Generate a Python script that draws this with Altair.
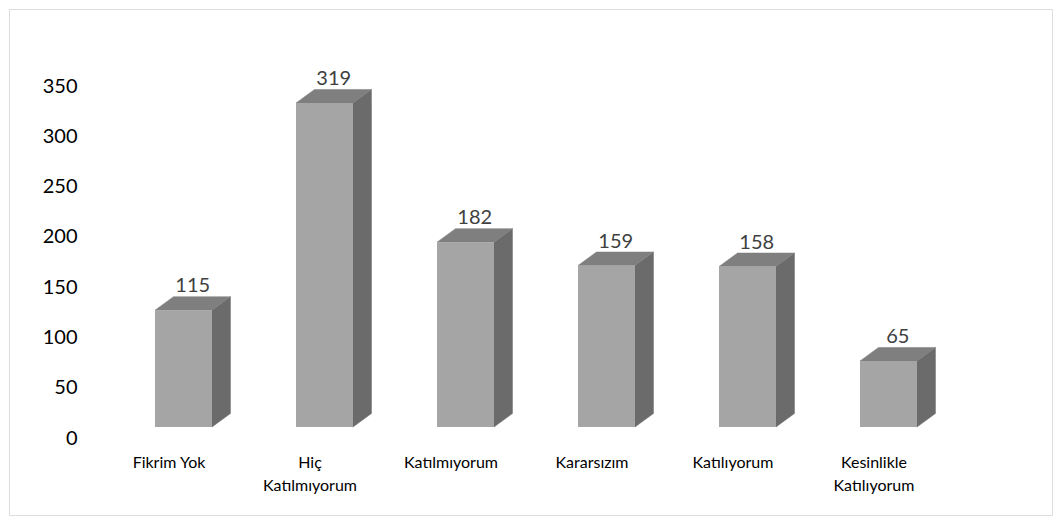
import json
import altair as alt
import pandas as pd

# ---- data ----
categories = ["Fikrim Yok", "Hiç Katılmıyorum", "Katılmıyorum", "Kararsızım",
              "Katılıyorum", "Kesinlikle Katılıyorum"]
label_lines = [["Fikrim Yok"], ["Hiç", "Katılmıyorum"], ["Katılmıyorum"], ["Kararsızım"],
               ["Katılıyorum"], ["Kesinlikle", "Katılıyorum"]]
values = [115, 319, 182, 159, 158, 65]
y_ticks = [0, 50, 100, 150, 200, 250, 300, 350]

# ---- style constants (3D look) ----
HALF = 0.2021      # half front width, in slot units
DX = 0.131         # depth, x (slot units)
DY = 13.3          # depth, y (value units)
FRONT = "#a5a5a5"
TOP = "#7f7f7f"
SIDE = "#6b6b6b"
FONT = "Lato"

idx = list(range(len(values)))

front_df = pd.DataFrame({
    "cat": categories,
    "x0": [i - HALF for i in idx],
    "x1": [i + HALF for i in idx],
    "v": values,
    "zero": [0] * len(values),
})

top_rows = []
side_rows = []
for i, (c, v) in enumerate(zip(categories, values)):
    x0, x1 = i - HALF, i + HALF
    top_rows += [
        {"cat": c, "x": x0, "hi": v, "lo": v},
        {"cat": c, "x": x0 + DX, "hi": v + DY, "lo": v},
        {"cat": c, "x": x1, "hi": v + DY, "lo": v},
        {"cat": c, "x": x1 + DX, "hi": v + DY, "lo": v + DY},
    ]
    side_rows += [
        {"cat": c, "x": x1, "hi": v, "lo": 0},
        {"cat": c, "x": x1 + DX, "hi": v + DY, "lo": DY},
    ]
top_df = pd.DataFrame(top_rows)
side_df = pd.DataFrame(side_rows)
text_df = pd.DataFrame({"cat": categories, "xt": [i + DX / 2 for i in idx], "v": values})
tick_df = pd.DataFrame({"t": y_ticks})

xscale = alt.Scale(domain=[-0.5, 5.5], range=[104, 950], nice=False, zero=False)
yfront = alt.Scale(domain=[0, 350], range=[418, 62.5], nice=False, zero=False)
yaxis_scale = alt.Scale(domain=[0, 350], range=[429, 77], nice=False, zero=False)

label_expr = json.dumps(label_lines, ensure_ascii=False) + "[datum.value]"

x_axis = alt.Axis(values=idx, labelExpr=label_expr, title=None, orient="bottom",
                  offset=-70, domain=False, ticks=False, grid=False,
                  labelPadding=9, labelBaseline="top", labelFontSize=16,
                  labelFont=FONT, labelFontWeight="normal", labelColor="#000000",
                  labelLineHeight=23, labelOffset=-15, labelFlush=False,
                  labelOverlap=False)

axis_layer = alt.Chart(tick_df).mark_point(opacity=0).encode(
    y=alt.Y("t:Q", scale=yaxis_scale,
            axis=alt.Axis(values=y_ticks, format="d", title=None, orient="left",
                          offset=-78, domain=False, ticks=False, grid=False,
                          labelPadding=10, labelFontSize=20, labelFont=FONT,
                          labelFontWeight="normal", labelColor="#000000"))
)

side = alt.Chart(side_df).mark_area(color=SIDE, orient="vertical", stroke=SIDE,
                                    strokeWidth=0.5).encode(
    x=alt.X("x:Q", scale=xscale, axis=x_axis),
    y=alt.Y("hi:Q", scale=yfront, axis=None, stack=False),
    y2="lo:Q",
    detail="cat:N",
)

top = alt.Chart(top_df).mark_area(color=TOP, orient="vertical", stroke=TOP,
                                  strokeWidth=0.5).encode(
    x=alt.X("x:Q", scale=xscale, axis=x_axis),
    y=alt.Y("hi:Q", scale=yfront, axis=None, stack=False),
    y2="lo:Q",
    detail="cat:N",
)

front = alt.Chart(front_df).mark_rect(color=FRONT).encode(
    x=alt.X("x0:Q", scale=xscale, axis=x_axis),
    x2="x1:Q",
    y=alt.Y("v:Q", scale=yfront, axis=None),
    y2="zero:Q",
)

text = alt.Chart(text_df).mark_text(fontSize=20, font=FONT, color="#404040",
                                    baseline="middle", dy=-24).encode(
    x=alt.X("xt:Q", scale=xscale, axis=x_axis),
    y=alt.Y("v:Q", scale=yfront, axis=None),
    text="v:Q",
)

chart = alt.layer(axis_layer, side, top, front, text).resolve_scale(
    y="independent"
).properties(
    width=1043, height=506,
    padding={"left": 1, "top": 1, "right": 1, "bottom": 1},
    autosize=alt.AutoSizeParams(type="none"),
).configure_view(stroke="#d9d9d9", strokeWidth=1.5).configure(background="#ffffff")

chart.save("out.html", embed_options={"renderer": "svg", "actions": False})
